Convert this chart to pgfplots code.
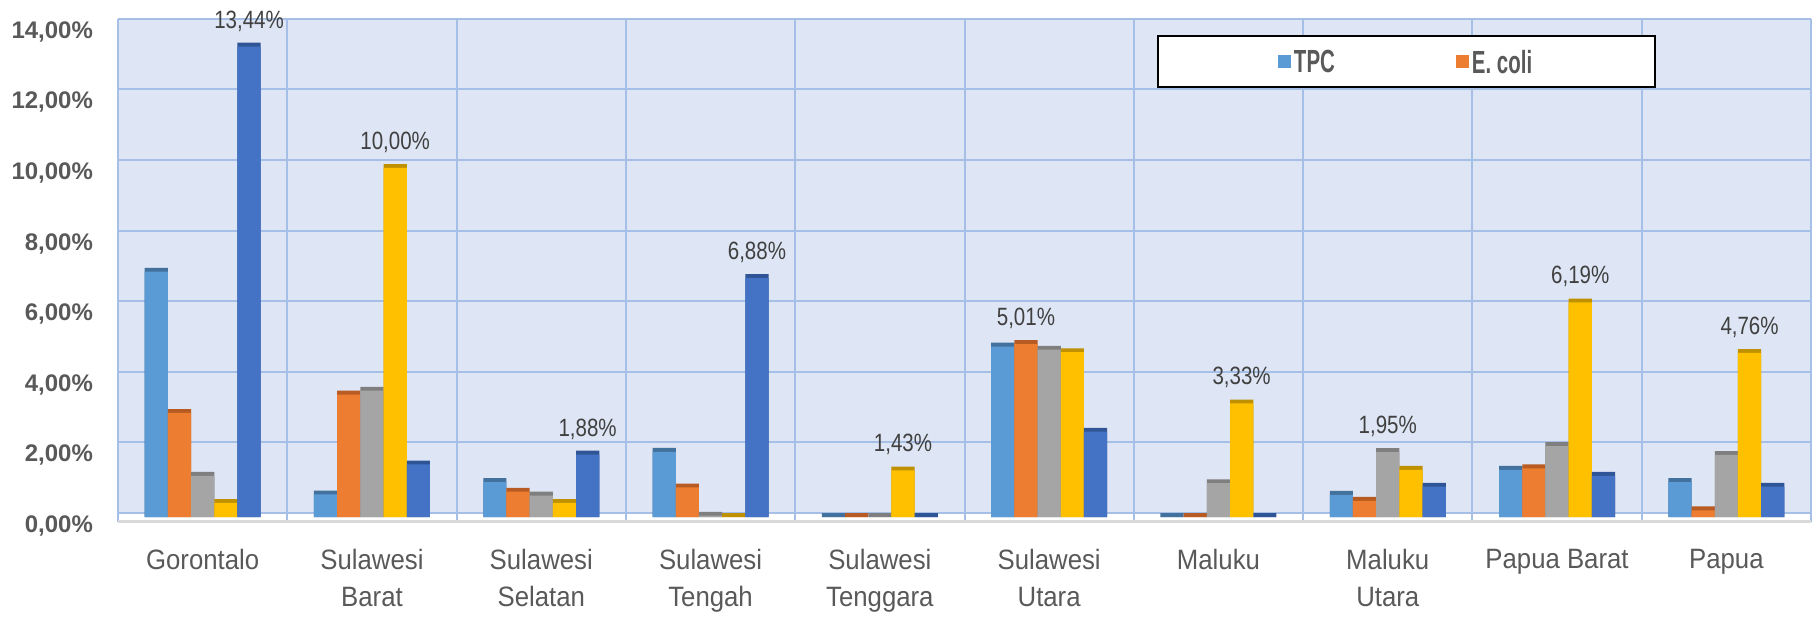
\documentclass[border=0pt]{standalone}
\usepackage{fontspec}
\setmainfont{Liberation Sans}
\newfontfamily\labelfont{Liberation Sans}[FakeStretch=0.92]
\newfontfamily\valfont{Liberation Sans}[FakeStretch=0.82]
\newfontfamily\legfont{Liberation Sans}[FakeStretch=0.64]
\usepackage{pgfplots}
\usepackage{pgfplotstable}
\pgfplotsset{compat=1.18}

\definecolor{cTPC}{HTML}{5B9BD5}\definecolor{cTPCd}{HTML}{41719C}
\definecolor{cEco}{HTML}{ED7D31}\definecolor{cEcod}{HTML}{B85B22}
\definecolor{cGry}{HTML}{A5A5A5}\definecolor{cGryd}{HTML}{7F7F7F}
\definecolor{cYel}{HTML}{FFC000}\definecolor{cYeld}{HTML}{BF9000}
\definecolor{cBlu}{HTML}{4472C4}\definecolor{cBlud}{HTML}{2F5597}
\definecolor{bgblue}{HTML}{DEE5F4}
\definecolor{gridblue}{HTML}{A6BFE7}
\definecolor{axgray}{HTML}{D9D9D9}
\definecolor{labgray}{HTML}{595959}
\definecolor{valgray}{HTML}{404040}

% x = region index; labels only on the largest bar of each region
\pgfplotstableread{
x tpc  ecoli grey yellow blue  ltpc lecoli lgrey lyellow lblue
0 7.06 3.06  1.28 0.51  13.44 {} {} {} {} {13,44\%}
1 0.75 3.58  3.69 10.00 1.60  {} {} {} {10,00\%} {}
2 1.10 0.83  0.72 0.51  1.88  {} {} {} {} {1,88\%}
3 1.96 0.95  0.15 0.00  6.88  {} {} {} {} {6,88\%}
4 0.00 0.00  0.00 1.43  0.00  {} {} {} {1,43\%} {}
5 4.94 5.01  4.85 4.78  2.53  {} {5,01\%} {} {} {}
6 0.00 0.00  1.07 3.33  0.00  {} {} {} {3,33\%} {}
7 0.74 0.57  1.95 1.45  0.97  {} {} {1,95\%} {} {}
8 1.45 1.49  2.12 6.19  1.28  {} {} {} {6,19\%} {}
9 1.10 0.30  1.87 4.76  0.97  {} {} {} {4,76\%} {}
}\data

% dark top band: full bar in the dark shade, the main colour drawn over it
\pgfplotsset{
  capbar/.style 2 args={ybar, bar width=11.6pt, bar shift=#1, fill=#2, draw=none, forget plot,
    point meta=explicit symbolic, nodes near coords={\pgfplotspointmeta},
    every node near coord/.append style={xshift=#1}},
  mainbar/.style 2 args={ybar, bar width=11.6pt, bar shift=#1, fill=#2, draw=none},
}
\newcommand\series[5]{%
  \addplot[capbar={#1}{#3}] table[x=x, y expr={max(\thisrow{#4},0.11)}, meta=#5] {\data};
  \addplot[mainbar={#1}{#2}] table[x=x, y expr={max(\thisrow{#4}-0.11,0)}] {\data};
}

\begin{document}
\begin{tikzpicture}
\begin{axis}[
  name=ax, set layers,
  scale only axis, width=846.5pt, height=251.5pt,
  xmin=-0.5, xmax=9.5, ymin=-0.14, ymax=14.11,
  clip=false,
  axis line style={draw=none}, tick style={draw=none},
  xtick={0,...,9},
  xticklabels={Gorontalo,{Sulawesi\\Barat},{Sulawesi\\Selatan},{Sulawesi\\Tengah},{Sulawesi\\Tenggara},{Sulawesi\\Utara},Maluku,{Maluku\\Utara},Papua Barat,Papua},
  xticklabel style={align=center, font=\labelfont\fontsize{14}{18.5}\selectfont, text=labgray, yshift=-10pt},
  minor xtick={-0.5,0.5,...,9.5},
  xminorgrids, minor grid style={gridblue, line width=1pt},
  ytick={0,2,...,14},
  ymajorgrids, y grid style={gridblue, line width=1pt, yshift=2pt},
  yticklabel={\pgfmathprintnumber[fixed,fixed zerofill,precision=2,use comma,assume math mode=true]{\tick}\%},
  yticklabel style={font=\bfseries\fontsize{12}{14}\selectfont, text=labgray, xshift=-9pt, yshift=-4.5pt},
  every node near coord/.append style={font=\valfont\fontsize{12.5}{14}\selectfont, text=valgray, anchor=south, inner sep=0pt, yshift=5.5pt},
  legend style={at={(0.6137,0.968)}, anchor=north west, draw=black, line width=1pt, fill=white,
    font=\legfont\bfseries\fontsize{16}{16}\selectfont, text=labgray,
    inner xsep=60pt, inner ysep=5.5pt, nodes={inner sep=1.5pt, text depth=0pt}},
  legend columns=2,
  /tikz/every even column/.append style={column sep=59pt},
  legend image code/.code={\fill[#1] (0pt,-3.25pt) rectangle (6.5pt,3.25pt);},
]
\begin{pgfonlayer}{axis background}
\fill[bgblue] (axis cs:-0.5,0.113) rectangle (axis cs:9.5,14.11);
\end{pgfonlayer}

\series{-23.2pt}{cTPC}{cTPCd}{tpc}{ltpc}
\addlegendentry{TPC}
\series{-11.6pt}{cEco}{cEcod}{ecoli}{lecoli}
\addlegendentry{E. coli}
\series{0pt}{cGry}{cGryd}{grey}{lgrey}
\series{11.6pt}{cYel}{cYeld}{yellow}{lyellow}
\series{23.2pt}{cBlu}{cBlud}{blue}{lblue}

\draw[axgray, line width=1.5pt] (rel axis cs:0,0) -- (rel axis cs:1,0);
\end{axis}
\pgfresetboundingbox
\path[use as bounding box] ([shift={(-59pt,-47pt)}]ax.south west) rectangle ([shift={(2pt,9.5pt)}]ax.north east);
\end{tikzpicture}
\end{document}
